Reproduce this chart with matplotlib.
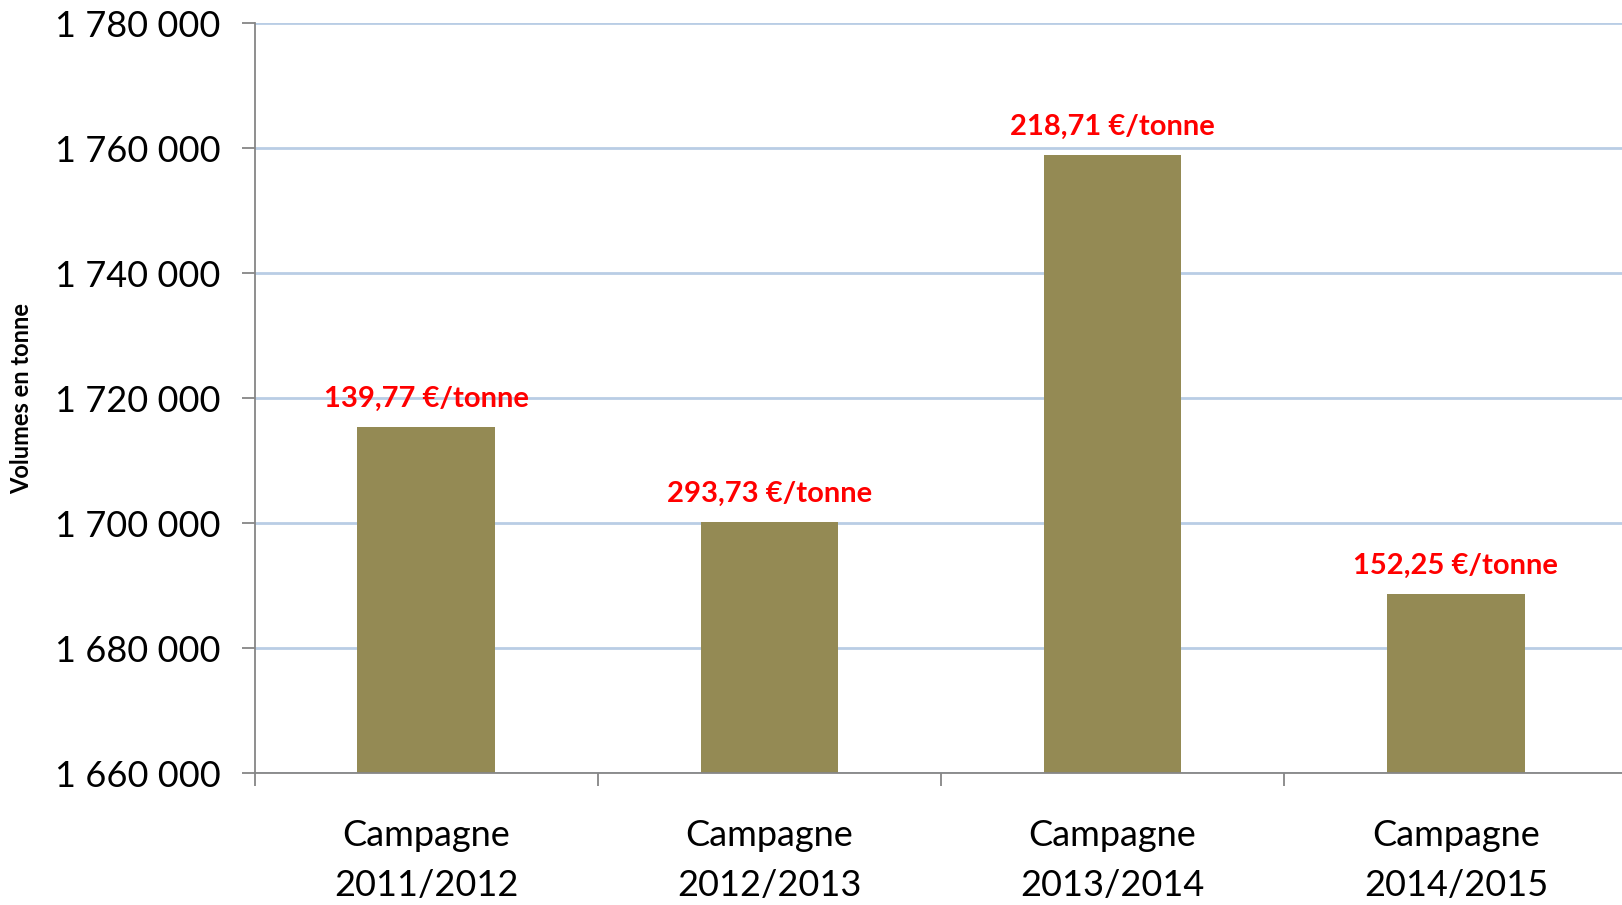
import matplotlib
matplotlib.use('Agg')
import matplotlib.pyplot as plt
from matplotlib.ticker import FuncFormatter

# data
campagnes = ['Campagne\n2011/2012', 'Campagne\n2012/2013', 'Campagne\n2013/2014', 'Campagne\n2014/2015']
volumes = [1715300, 1700100, 1758900, 1688600]
prix = ['139,77 €/tonne', '293,73 €/tonne', '218,71 €/tonne', '152,25 €/tonne']
yticks = [1660000, 1680000, 1700000, 1720000, 1740000, 1760000, 1780000]

plt.rcParams['font.family'] = ['Lato', 'DejaVu Sans']

fig = plt.figure(figsize=(16.22, 9.05), dpi=100)
ax = fig.add_axes([254.5 / 1622, 132 / 905, 1373 / 1622, 750 / 905])

x = range(len(campagnes))
ax.bar(x, volumes, width=0.4, color='#948A54', zorder=3)

for xi, v, p in zip(x, volumes, prix):
    ax.annotate(p, (xi, v), xytext=(0, 11), textcoords='offset points',
                ha='center', va='bottom', color='#FF0000', fontsize=21, fontweight='bold')

ax.set_ylim(1660000, 1780000)
ax.set_xlim(-0.5, 3.5)
ax.set_yticks(yticks)
ax.yaxis.set_major_formatter(FuncFormatter(lambda v, _: f'{int(v):,}'.replace(',', ' ')))
ax.tick_params(axis='y', labelsize=26, length=9.5, width=1.3, color='#868686', pad=15)

ax.set_xticks(list(x))
ax.set_xticklabels(campagnes, fontsize=26, linespacing=1.65)
ax.set_xticks([-0.5, 0.5, 1.5, 2.5, 3.5], minor=True)
ax.tick_params(axis='x', which='major', length=0, pad=33)
ax.tick_params(axis='x', which='minor', length=9, width=1.3, color='#868686')

ax.grid(axis='y', color='#B9CDE5', linewidth=2, zorder=0)
for side in ['top', 'right']:
    ax.spines[side].set_visible(False)
for side in ['left', 'bottom']:
    ax.spines[side].set_color('#868686')
    ax.spines[side].set_linewidth(1.3)
ax.spines['bottom'].set_zorder(4)

fig.text(22 / 1622, 1 - 398 / 905, 'Volumes en tonne', rotation=90, ha='center', va='center',
         fontsize=17, fontweight='bold')

fig.savefig('out.png', dpi=100)
